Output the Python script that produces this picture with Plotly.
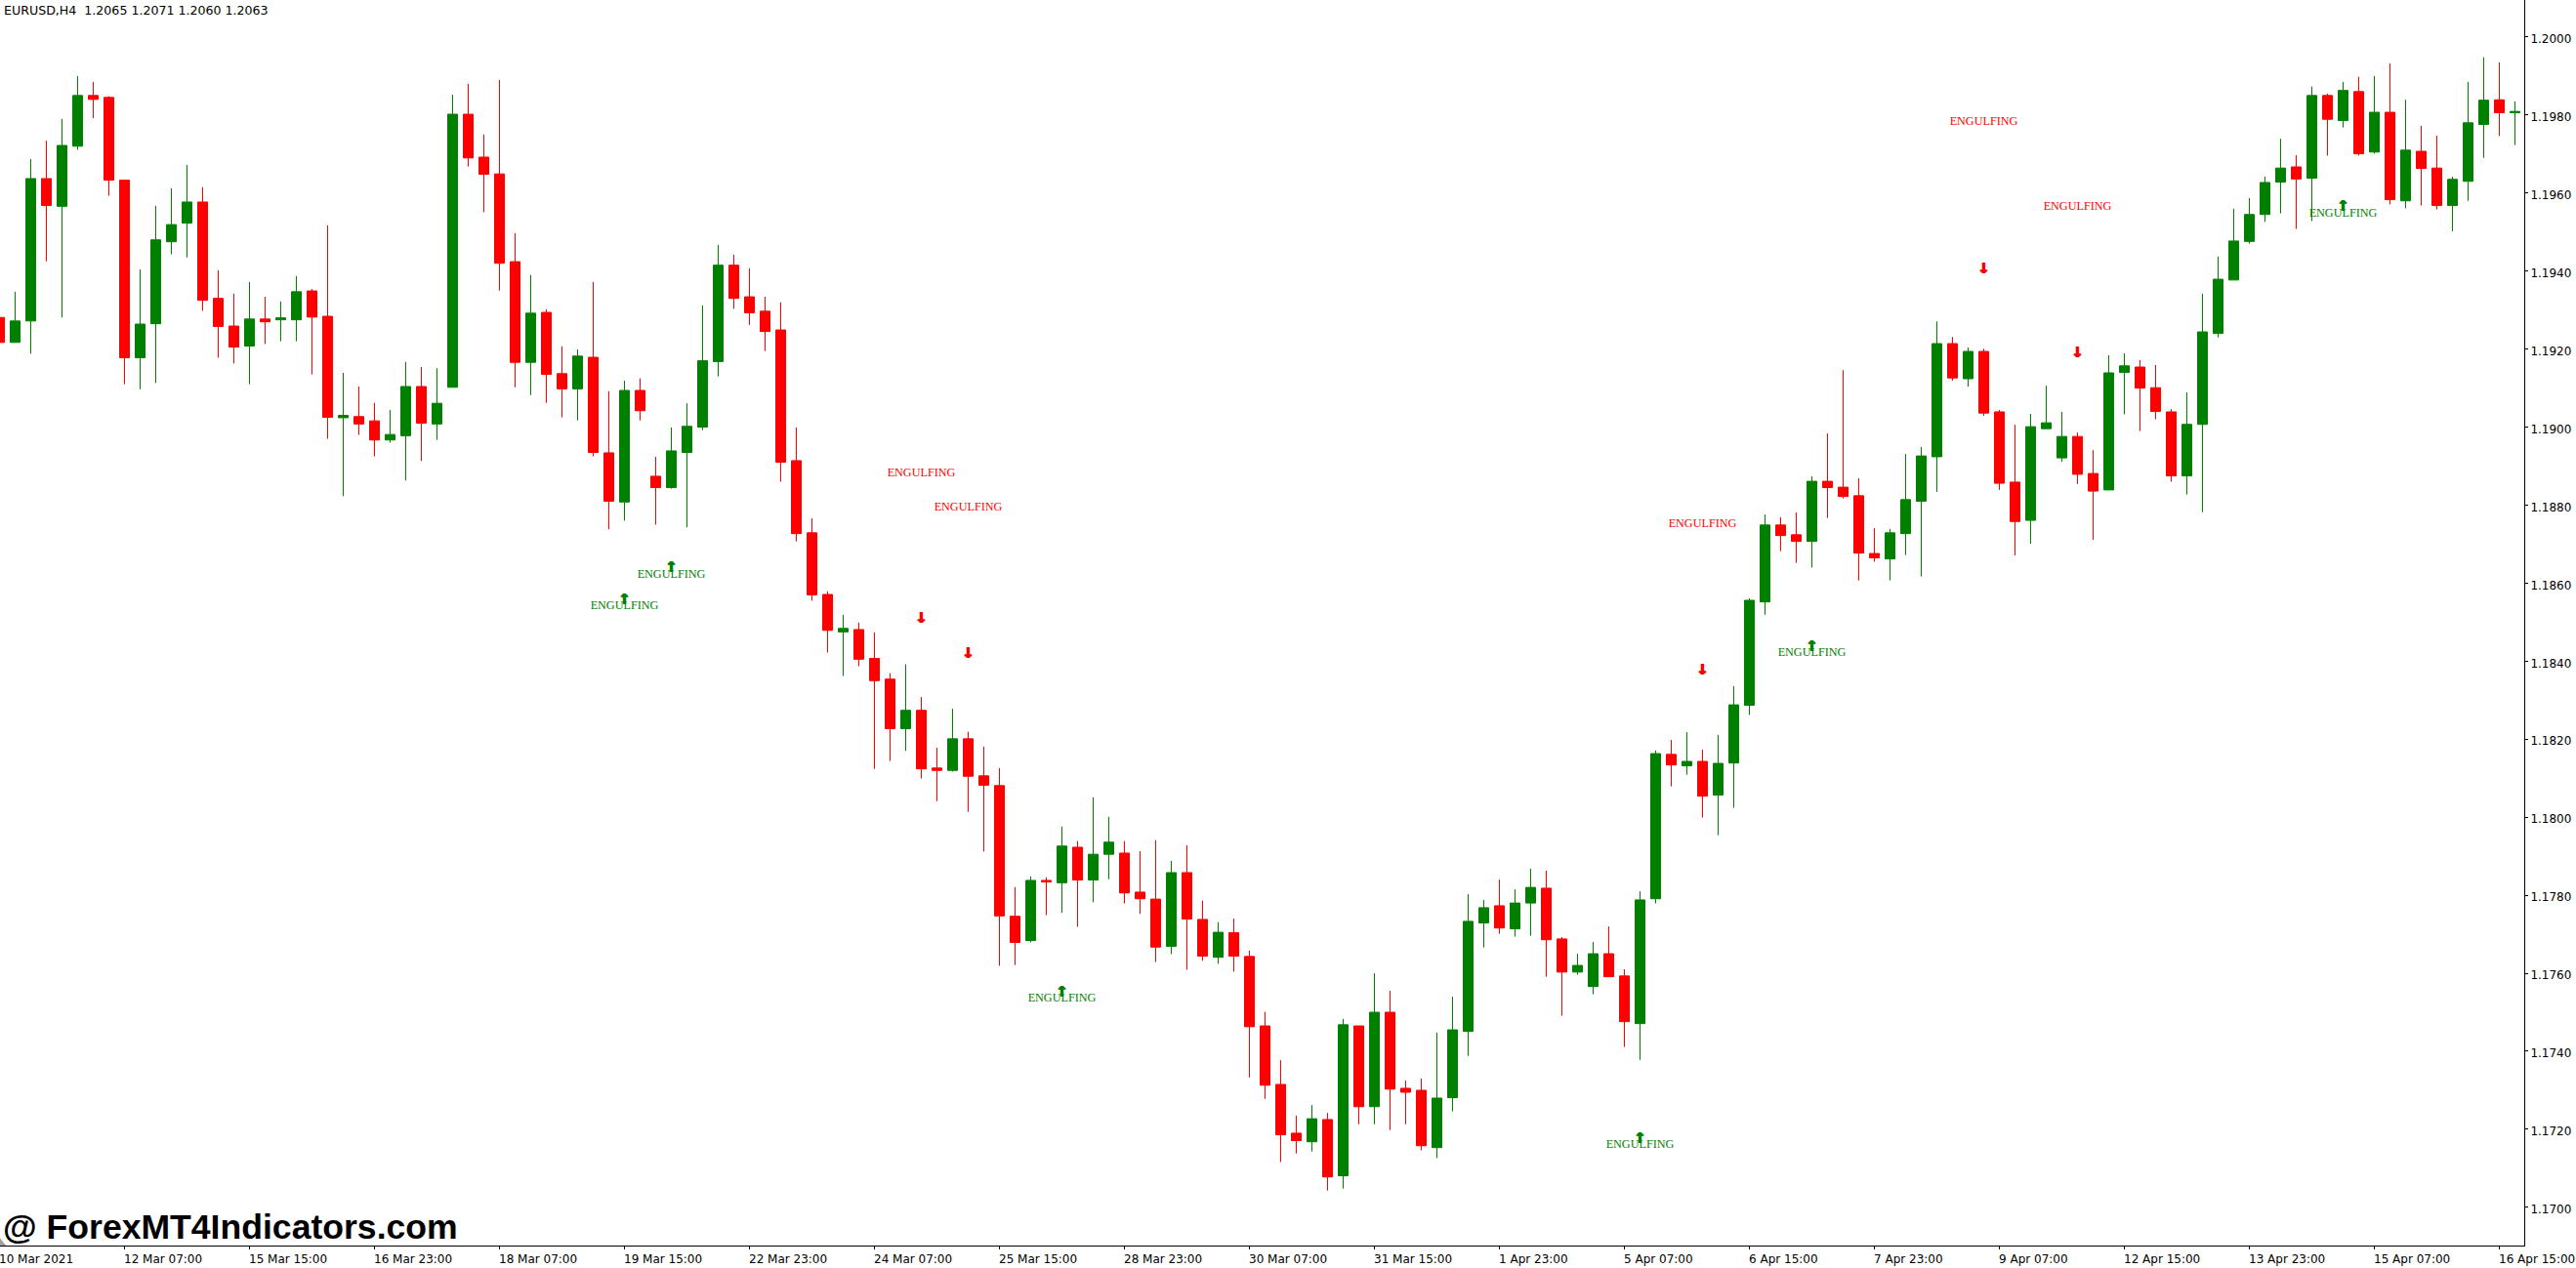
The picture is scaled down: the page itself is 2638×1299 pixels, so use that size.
import plotly.graph_objects as go

# EURUSD H4 bars
opens = [
    1.19281, 1.19217, 1.19272, 1.19637, 1.19566, 1.19720, 1.19850, 1.19845, 1.19633, 1.19178,
    1.19265, 1.19475, 1.19523, 1.19577, 1.19330, 1.19259, 1.19208, 1.19277, 1.19275, 1.19275,
    1.19349, 1.19284, 1.19024, 1.19027, 1.19016, 1.18967, 1.18978, 1.19104,
    1.19008, 1.19102, 1.19802, 1.19692, 1.19649, 1.19424, 1.19166, 1.19294, 1.19137, 1.19098,
    1.19179, 1.18934, 1.18808, 1.19094, 1.18874, 1.18845, 1.18935, 1.19000, 1.19168, 1.19415,
    1.19334, 1.19297, 1.19249, 1.18914, 1.18729, 1.18571, 1.18475, 1.18481, 1.18407, 1.18354,
    1.18227, 1.18274, 1.18126, 1.18120, 1.18201, 1.18106, 1.18081, 1.17746, 1.17684, 1.17838,
    1.17832, 1.17923, 1.17839, 1.17905, 1.17908, 1.17808, 1.17790, 1.17669, 1.17858, 1.17738,
    1.17641, 1.17704, 1.17643, 1.17465, 1.17315, 1.17190, 1.17168, 1.17225, 1.17081, 1.17465,
    1.17258, 1.17500, 1.17305, 1.17300, 1.17153, 1.17281, 1.17451, 1.17729, 1.17773, 1.17714,
    1.17780, 1.17818, 1.17688, 1.17603, 1.17566, 1.17650, 1.17593, 1.17471, 1.17791, 1.18161,
    1.18132, 1.18143, 1.18057, 1.18139, 1.18287, 1.18552, 1.18749, 1.18724, 1.18707, 1.18861,
    1.18846, 1.18824, 1.18676, 1.18662, 1.18727, 1.18810, 1.18924, 1.19214, 1.19124, 1.19194,
    1.19039, 1.18859, 1.18761, 1.18996, 1.18921, 1.18976, 1.18881, 1.18839, 1.19140, 1.19154,
    1.19101, 1.19039, 1.18875, 1.19007, 1.19240, 1.19377, 1.19476, 1.19545, 1.19628, 1.19667,
    1.19638, 1.19850, 1.19786, 1.19860, 1.19705, 1.19807, 1.19580, 1.19707, 1.19664, 1.19568,
    1.19630, 1.19776, 1.19839, 1.19806,
]
highs = [
    1.19281, 1.19347, 1.19687, 1.19734, 1.19790, 1.19900, 1.19885, 1.19848, 1.19634, 1.19404,
    1.19567, 1.19612, 1.19672, 1.19615, 1.19402, 1.19342, 1.19372, 1.19334, 1.19322, 1.19387,
    1.19354, 1.19517, 1.19139, 1.19104, 1.19062, 1.19044, 1.19167, 1.19154,
    1.19151, 1.19852, 1.19880, 1.19750, 1.19890, 1.19497, 1.19390, 1.19302, 1.19207, 1.19199,
    1.19372, 1.19092, 1.19119, 1.19125, 1.18924, 1.18999, 1.19061, 1.19312, 1.19467, 1.19442,
    1.19407, 1.19334, 1.19320, 1.18999, 1.18766, 1.18579, 1.18519, 1.18499, 1.18474, 1.18369,
    1.18392, 1.18308, 1.18178, 1.18278, 1.18219, 1.18181, 1.18126, 1.17821, 1.17848, 1.17846,
    1.17976, 1.17939, 1.18051, 1.18001, 1.17939, 1.17913, 1.17941, 1.17888, 1.17928, 1.17786,
    1.17731, 1.17740, 1.17658, 1.17501, 1.17377, 1.17235, 1.17262, 1.17242, 1.17483, 1.17465,
    1.17600, 1.17555, 1.17325, 1.17330, 1.17448, 1.17540, 1.17803, 1.17788, 1.17840, 1.17815,
    1.17868, 1.17863, 1.17693, 1.17650, 1.17680, 1.17720, 1.17610, 1.17810, 1.18171, 1.18198,
    1.18218, 1.18173, 1.18211, 1.18336, 1.18561, 1.18776, 1.18769, 1.18781, 1.18874, 1.18984,
    1.19146, 1.18869, 1.18741, 1.18739, 1.18931, 1.18949, 1.19271, 1.19231, 1.19204, 1.19201,
    1.19044, 1.19006, 1.19034, 1.19106, 1.19039, 1.18986, 1.18941, 1.19184, 1.19189, 1.19172,
    1.19159, 1.19046, 1.19089, 1.19342, 1.19437, 1.19560, 1.19587, 1.19642, 1.19739, 1.19697,
    1.19873, 1.19855, 1.19885, 1.19898, 1.19900, 1.19932, 1.19839, 1.19772, 1.19747, 1.19642,
    1.19885, 1.19948, 1.19935, 1.19835,
]
lows = [
    1.19217, 1.19217, 1.19188, 1.19425, 1.19281, 1.19711, 1.19792, 1.19593, 1.19110, 1.19097,
    1.19113, 1.19443, 1.19435, 1.19298, 1.19178, 1.19163, 1.19110, 1.19213, 1.19220, 1.19220,
    1.19135, 1.18970, 1.18823, 1.18980, 1.18925, 1.18960, 1.18863, 1.18913,
    1.18967, 1.19102, 1.19668, 1.19551, 1.19350, 1.19102, 1.19082, 1.19062, 1.19025, 1.19017,
    1.18925, 1.18738, 1.18760, 1.19017, 1.18750, 1.18842, 1.18743, 1.18992, 1.19130, 1.19303,
    1.19262, 1.19195, 1.18860, 1.18707, 1.18555, 1.18422, 1.18362, 1.18387, 1.18124, 1.18144,
    1.18170, 1.18099, 1.18041, 1.18117, 1.18014, 1.17912, 1.17619, 1.17621, 1.17679, 1.17749,
    1.17755, 1.17719, 1.17782, 1.17841, 1.17779, 1.17752, 1.17629, 1.17649, 1.17609, 1.17632,
    1.17624, 1.17604, 1.17333, 1.17278, 1.17116, 1.17138, 1.17143, 1.17043, 1.17048, 1.17213,
    1.17213, 1.17198, 1.17213, 1.17146, 1.17126, 1.17246, 1.17388, 1.17666, 1.17701, 1.17694,
    1.17696, 1.17591, 1.17491, 1.17596, 1.17546, 1.17591, 1.17411, 1.17378, 1.17779, 1.18079,
    1.18109, 1.17999, 1.17954, 1.18024, 1.18262, 1.18519, 1.18682, 1.18652, 1.18640, 1.18767,
    1.18817, 1.18607, 1.18655, 1.18607, 1.18672, 1.18617, 1.18834, 1.19119, 1.19104, 1.19029,
    1.18839, 1.18671, 1.18701, 1.18996, 1.18911, 1.18854, 1.18711, 1.18839, 1.19033, 1.18990,
    1.19020, 1.18860, 1.18827, 1.18782, 1.19230, 1.19377, 1.19470, 1.19526, 1.19548, 1.19508,
    1.19528, 1.19696, 1.19768, 1.19696, 1.19701, 1.19571, 1.19561, 1.19568, 1.19558, 1.19502,
    1.19580, 1.19690, 1.19746, 1.19723,
]
closes = [
    1.19217, 1.19272, 1.19637, 1.19568, 1.19722, 1.19850, 1.19840, 1.19633, 1.19178, 1.19264,
    1.19480, 1.19519, 1.19577, 1.19325, 1.19258, 1.19205, 1.19277, 1.19270, 1.19280, 1.19347,
    1.19282, 1.19025, 1.19030, 1.19008, 1.18967, 1.18981, 1.19104, 1.19010,
    1.19061, 1.19802, 1.19690, 1.19648, 1.19420, 1.19166, 1.19292, 1.19135, 1.19098, 1.19182,
    1.18935, 1.18810, 1.19094, 1.19042, 1.18845, 1.18939, 1.19002, 1.19170, 1.19415, 1.19330,
    1.19293, 1.19245, 1.18910, 1.18727, 1.18570, 1.18479, 1.18484, 1.18405, 1.18350, 1.18227,
    1.18274, 1.18124, 1.18120, 1.18201, 1.18105, 1.18082, 1.17747, 1.17679, 1.17838, 1.17834,
    1.17926, 1.17839, 1.17905, 1.17936, 1.17806, 1.17791, 1.17667, 1.17858, 1.17739, 1.17644,
    1.17705, 1.17644, 1.17463, 1.17313, 1.17186, 1.17171, 1.17227, 1.17078, 1.17468, 1.17258,
    1.17500, 1.17303, 1.17295, 1.17158, 1.17280, 1.17455, 1.17733, 1.17768, 1.17716, 1.17780,
    1.17820, 1.17686, 1.17603, 1.17620, 1.17650, 1.17591, 1.17476, 1.17788, 1.18163, 1.18134,
    1.18143, 1.18054, 1.18138, 1.18288, 1.18556, 1.18749, 1.18722, 1.18707, 1.18861, 1.18845,
    1.18822, 1.18677, 1.18665, 1.18729, 1.18814, 1.18926, 1.19214, 1.19126, 1.19194, 1.19036,
    1.18856, 1.18758, 1.19001, 1.19011, 1.18976, 1.18879, 1.18836, 1.19139, 1.19157, 1.19100,
    1.19040, 1.18875, 1.19007, 1.19244, 1.19379, 1.19477, 1.19545, 1.19627, 1.19664, 1.19636,
    1.19850, 1.19789, 1.19863, 1.19701, 1.19807, 1.19583, 1.19710, 1.19663, 1.19568, 1.19635,
    1.19780, 1.19838, 1.19806, 1.19809,
]
bars = list(range(len(opens)))

# engulfing signals: bar number, label price, arrow price
sell_bars = [59, 62, 109, 127, 133]
sell_label = [1.18882, 1.18795, 1.18752, 1.19781, 1.19565]
sell_arrow = [1.18509, 1.18418, 1.18376, 1.19404, 1.19189]
buy_bars = [40, 43, 68, 105, 116, 150]
buy_label = [1.18540, 1.18621, 1.17534, 1.17159, 1.18420, 1.19547]
buy_arrow = [1.18556, 1.18637, 1.17550, 1.17175, 1.18436, 1.19563]

time_bars = [0, 8, 16, 24, 32, 40, 48, 56, 64, 72, 80, 88, 96, 104, 112, 120, 128, 136, 144, 152, 160]
time_labels = ["10 Mar 2021", "12 Mar 07:00", "15 Mar 15:00", "16 Mar 23:00", "18 Mar 07:00",
               "19 Mar 15:00", "22 Mar 23:00", "24 Mar 07:00", "25 Mar 15:00", "28 Mar 23:00",
               "30 Mar 07:00", "31 Mar 15:00", "1 Apr 23:00", "5 Apr 07:00", "6 Apr 15:00",
               "7 Apr 23:00", "9 Apr 07:00", "12 Apr 15:00", "13 Apr 23:00", "15 Apr 07:00",
               "16 Apr 15:00"]
price_ticks = [1.1700, 1.1720, 1.1740, 1.1760, 1.1780, 1.1800, 1.1820, 1.1840,
               1.1860, 1.1880, 1.1900, 1.1920, 1.1940, 1.1960, 1.1980, 1.2000]

RED = "#FF0000"
GREEN = "#008000"
AXIS_FONT = dict(family="DejaVu Sans", size=12, color="black")
X_MIN, X_MAX = 0.03125, 161.594

fig = go.Figure()
fig.add_trace(go.Candlestick(
    x=bars, open=opens, high=highs, low=lows, close=closes,
    increasing=dict(line=dict(color=GREEN, width=1), fillcolor=GREEN),
    decreasing=dict(line=dict(color=RED, width=1), fillcolor=RED),
    whiskerwidth=0, showlegend=False,
))

# Region signals
for xs, label_y, arrow_y, color, glyph in [
    (sell_bars, sell_label, sell_arrow, RED, "↓"),
    (buy_bars, buy_label, buy_arrow, GREEN, "↑"),
]:
    fig.add_trace(go.Scatter(
        x=xs, y=label_y, mode="text", text=["ENGULFING"] * len(xs),
        textfont=dict(family="Liberation Serif", size=12.2, color=color),
        textposition="middle center", showlegend=False,
    ))
    fig.add_trace(go.Scatter(
        x=xs, y=arrow_y, mode="text", text=[glyph] * len(xs),
        textfont=dict(family="DejaVu Sans", size=15, color=color, weight="bold",
                      shadow=f"0.7px 0 0 {color}, -0.7px 0 0 {color}"),
        textposition="middle center", showlegend=False,
    ))
# End Region signals

annotations = [
    dict(xref="x", yref="paper", x=max(b, X_MIN), y=0, yshift=-7, xanchor="left", yanchor="top",
         text=t, showarrow=False, font=AXIS_FONT, xshift=-1, borderpad=0, borderwidth=0)
    for b, t in zip(time_bars, time_labels)
]
annotations.append(dict(
    xref="paper", yref="paper", x=0, y=1, xshift=2, yshift=-1, xanchor="left", yanchor="top",
    text="EURUSD,H4  1.2065 1.2071 1.2060 1.2063", showarrow=False,
    font=dict(family="DejaVu Sans", size=12.6, color="black"),
))
annotations.append(dict(
    xref="paper", yref="paper", x=0, y=0, xshift=1, yshift=-3, xanchor="left", yanchor="bottom",
    text="<b>@ ForexMT4Indicators.com</b>", showarrow=False,
    font=dict(family="Liberation Sans", size=35.6, color="black"),
))

fig.update_layout(
    width=2638, height=1299,
    margin=dict(l=0, r=53, t=0, b=23),
    paper_bgcolor="white", plot_bgcolor="white",
    boxgap=0.375, boxgroupgap=0,
    annotations=annotations,
    shapes=[dict(type="path", xref="paper", yref="paper", layer="above",
                 path="M 0 0 L 0.0024 0 L 0 0.006 Z", fillcolor="#A0A0A0", line_width=0)],
)
fig.update_xaxes(
    range=[X_MIN, X_MAX], rangeslider_visible=False,
    tickmode="array", tickvals=time_bars, showticklabels=False,
    ticks="outside", ticklen=3, tickwidth=1, tickcolor="black",
    showline=True, linecolor="black", linewidth=1, showgrid=False, zeroline=False,
)
fig.update_yaxes(
    range=[1.16902, 1.200948], side="right",
    tickmode="array", tickvals=price_ticks, tickformat=".4f", tickfont=AXIS_FONT,
    ticklabelshift=2,
    ticks="outside", ticklen=3, tickwidth=1, tickcolor="black",
    showline=True, linecolor="black", linewidth=1, showgrid=False, zeroline=False,
)

fig.write_html("out.html", config={"displayModeBar": False},
               post_script="document.body.style.margin='0';")
